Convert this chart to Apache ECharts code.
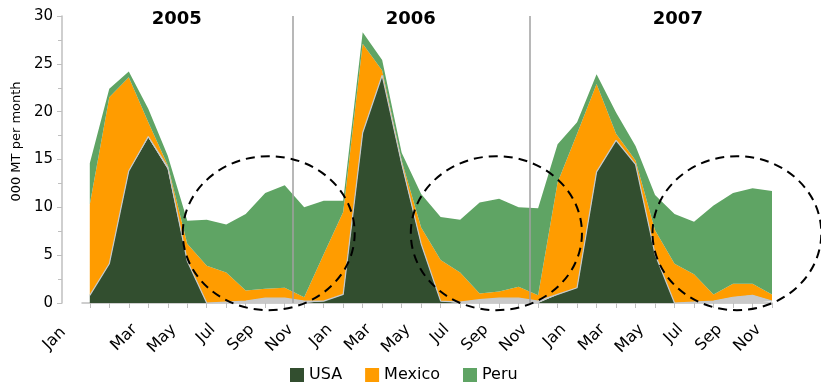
<!DOCTYPE html>
<html>
<head>
<meta charset="utf-8">
<script src="https://cdn.jsdelivr.net/npm/echarts@6/dist/echarts.min.js"></script>
<style>html,body{margin:0;padding:0;background:#fff;}#c{width:821px;height:385px;}</style>
</head>
<body>
<div id="c"></div>
<script>
// Month labels for each point (Jan 2005 .. Dec 2007)
var monthNames = ['Jan','Feb','Mar','Apr','May','Jun','Jul','Aug','Sep','Oct','Nov','Dec'];
var months = [];
for (var y = 0; y < 3; y++) for (var m = 0; m < 12; m++) months.push(monthNames[m]);

// Series values, 000 MT per month
var usa    = [0.8, 4.1, 13.8, 17.3, 14.0, 4.4, 0, 0, 0, 0, 0, 0,
              0.2, 0.9, 17.8, 23.8, 14.5, 6.2, 0.2, 0, 0, 0, 0, 0,
              0.9, 1.6, 13.7, 17.0, 14.5, 5.1, 0, 0, 0, 0, 0, 0];
var other  = [0, 0, 0, 0.1, 0.2, 0, 0, 0.1, 0.2, 0.5, 0.5, 0.2,
              0, 0, 0, 0, 0.1, 0, 0, 0.1, 0.35, 0.5, 0.5, 0.2,
              0, 0, 0, 0, 0, 0, 0, 0.1, 0.2, 0.6, 0.8, 0.2];
var mexico = [9.5, 17.4, 9.8, 1.5, 0.2, 1.8, 3.9, 3.1, 1.1, 1.0, 1.1, 0.4,
              4.9, 8.6, 9.3, 0.5, 0.3, 1.7, 4.3, 3.1, 0.65, 0.7, 1.2, 0.6,
              11.7, 16.1, 9.2, 0.7, 0.4, 2.5, 4.1, 2.9, 0.7, 1.4, 1.2, 0.7];
var peru   = [4.3, 0.9, 0.6, 1.4, 1.0, 2.4, 4.8, 5.0, 8.0, 10.0, 10.7, 9.4,
              5.6, 1.2, 1.2, 1.1, 0.8, 3.5, 4.5, 5.5, 9.5, 9.7, 8.3, 9.1,
              4.0, 1.2, 1.0, 2.2, 1.5, 3.7, 5.2, 5.5, 9.3, 9.5, 10.0, 10.8];

// Year headers: [position in months, value]
var years = ['2005', '2006', '2007'];
var yearPos = [4.46, 16.47, 30.17];
var yearY = 29.6;
// Year separators (month position)
var yearBreaks = [10.4, 22.57];
// Dashed ellipses: [centre month, centre value, radius months, radius value]
var ellipses = [[9.18, 7.3, 4.41, 8.05], [20.86, 7.3, 4.39, 8.05], [33.2, 7.3, 4.33, 8.05]];

// value first, month index second (so the stack runs on the value dimension)
function pairs(arr) { return arr.map(function (v, i) { return [v, i]; }); }

var idx = months.map(function (_, i) { return i; });
var labelIdx = idx.filter(function (i) { return i % 2 === 0; });

var chart = echarts.init(document.getElementById('c'), null, {renderer: 'canvas'});
var font = 'DejaVu Sans';
function area(name, data, color, extra) {
  var s = {
    name: name, type: 'line', stack: 'total', data: pairs(data),
    encode: {x: 1, y: 0},
    symbol: 'none', lineStyle: {width: 0, color: color},
    areaStyle: {color: color, opacity: 1}, itemStyle: {color: color},
    emphasis: {disabled: true}
  };
  for (var k in extra) s[k] = extra[k];
  return s;
}
chart.setOption({
  animation: false,
  textStyle: {fontFamily: font},
  grid: {left: 82, right: 49, top: 16, bottom: 82},
  legend: {
    data: ['USA', 'Mexico', 'Peru'], left: 285, top: 362,
    itemWidth: 14, itemHeight: 14, itemGap: 23, icon: 'rect',
    textStyle: {fontSize: 16, color: '#000', fontFamily: font}
  },
  xAxis: {
    type: 'value', min: -0.4, max: 35,
    axisLine: {onZero: false, lineStyle: {color: '#bfbfbf', width: 1.5}},
    axisTick: {customValues: idx, length: 5, lineStyle: {color: '#bfbfbf'}},
    axisLabel: {customValues: labelIdx, rotate: 45, fontSize: 16, color: '#000', margin: 18,
      formatter: function (v) {
        var i = Math.round(v);
        return (i === 0 ? '{first|' : '{n|') + months[i] + '}';
      },
      rich: {
        n: {fontSize: 16, color: '#000', fontFamily: font, padding: [17, 0, 0, 0]},
        first: {fontSize: 16, color: '#000', fontFamily: font, padding: [0, 25, 25, 0]}
      }},
    splitLine: {show: false}
  },
  yAxis: {
    type: 'value', min: 0, max: 30, interval: 5, offset: 20,
    name: '000 MT per month', nameLocation: 'middle', nameGap: 37, nameRotate: 90,
    nameTextStyle: {fontSize: 13, color: '#000', padding: [0, 0, 0, 36]},
    axisLine: {show: true, onZero: false, lineStyle: {color: '#bfbfbf', width: 1.5}},
    axisTick: {show: true, length: 5, lineStyle: {color: '#bfbfbf'}},
    minorTick: {show: true, splitNumber: 2, length: 4, lineStyle: {color: '#bfbfbf'}},
    axisLabel: {fontSize: 15, color: '#000', margin: 9},
    splitLine: {show: false}
  },
  series: [
    area('USA', usa, '#324e2f', {}),
    area('Other', other, '#c9c9c9', {lineStyle: {width: 1.2, color: '#c4c9cc'}}),
    area('Mexico', mexico, '#ff9c00', {}),
    area('Peru', peru, '#5fa464', {
      markLine: {
        silent: true, symbol: 'none', label: {show: false},
        lineStyle: {color: '#a0a0a0', width: 1.5, type: 'solid'},
        data: yearBreaks.map(function (x) { return {xAxis: x}; })
      },
      markPoint: {
        silent: true, symbol: 'rect', symbolSize: 1, itemStyle: {color: 'rgba(0,0,0,0)'},
        label: {show: true, position: 'inside', formatter: '{b}', fontSize: 18, fontWeight: 'bold', color: '#000', fontFamily: font},
        data: years.map(function (y, i) { return {name: y, coord: [yearPos[i], yearY]}; })
      }
    }),
    {
      name: 'ellipse', type: 'custom', silent: true, clip: false, z: 10,
      data: ellipses,
      encode: {x: 0, y: 1},
      renderItem: function (params, api) {
        var c = api.coord([api.value(0), api.value(1)]);
        var s = api.size([api.value(2), api.value(3)]);
        return {
          type: 'ellipse',
          shape: {cx: c[0], cy: c[1], rx: s[0], ry: s[1]},
          style: {fill: null, stroke: '#000', lineWidth: 2, lineDash: [9, 6]}
        };
      }
    }
  ]
});
</script>
</body>
</html>
